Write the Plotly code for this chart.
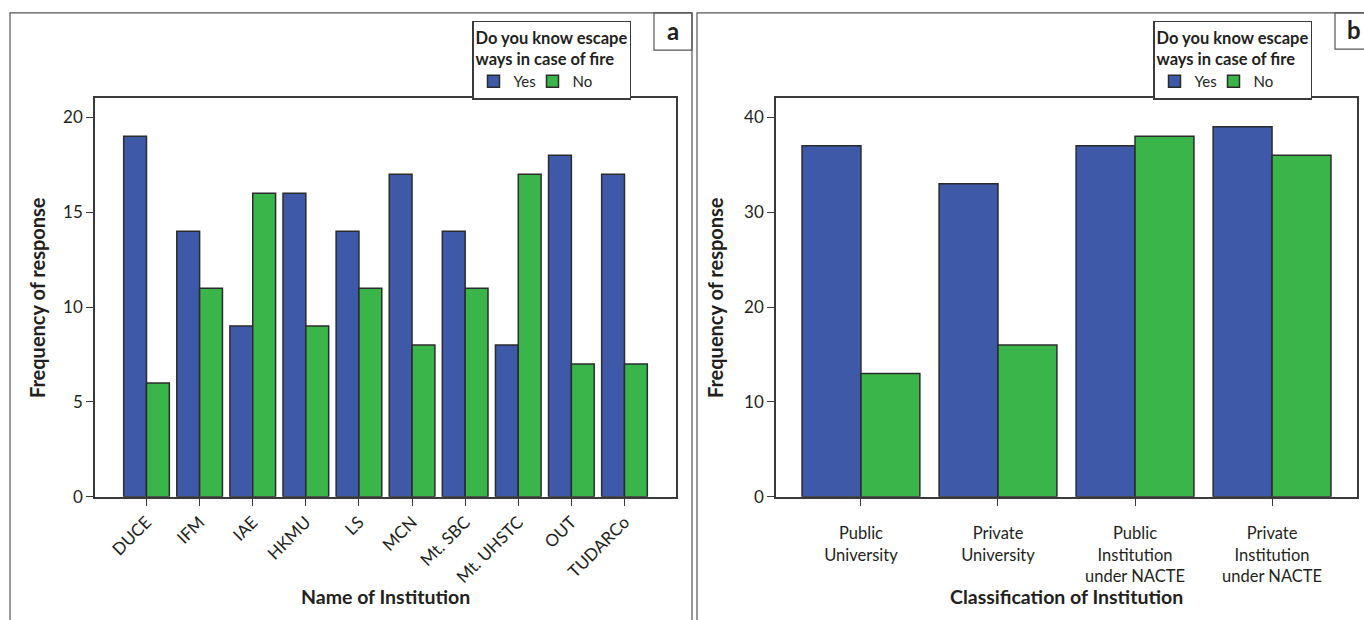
import plotly.graph_objects as go

W, H = 1364, 620

# Data panel a
institutions = ["DUCE", "IFM", "IAE", "HKMU", "LS", "MCN", "Mt. SBC", "Mt. UHSTC", "OUT", "TUDARCo"]
yes_a = [19, 14, 9, 16, 14, 17, 14, 8, 18, 17]
no_a = [6, 11, 16, 9, 11, 8, 11, 17, 7, 7]

# Data panel b
classes = ["Public<br>University", "Private<br>University",
           "Public<br>Institution<br>under NACTE", "Private<br>Institution<br>under NACTE"]
yes_b = [37, 33, 37, 39]
no_b = [13, 16, 38, 36]

BLUE = "#3D59A8"
GREEN = "#3AB54A"
EDGE = "#2b2b2b"
FONT = "Lato"
TXT = "#231f20"

def px_x(v):
    return v / W

def px_y(v):
    return 1 - v / H

fig = go.Figure()
fig.add_trace(go.Bar(x=institutions, y=yes_a, name="Yes", marker=dict(color=BLUE, line=dict(color=EDGE, width=1.5)),
                     xaxis="x", yaxis="y", legend="legend"))
fig.add_trace(go.Bar(x=institutions, y=no_a, name="No", marker=dict(color=GREEN, line=dict(color=EDGE, width=1.5)),
                     xaxis="x", yaxis="y", legend="legend"))
fig.add_trace(go.Bar(x=classes, y=yes_b, name="Yes", marker=dict(color=BLUE, line=dict(color=EDGE, width=1.5)),
                     xaxis="x2", yaxis="y2", legend="legend2"))
fig.add_trace(go.Bar(x=classes, y=no_b, name="No", marker=dict(color=GREEN, line=dict(color=EDGE, width=1.5)),
                     xaxis="x2", yaxis="y2", legend="legend2"))

ydom = [px_y(505), px_y(100)]
common_axis = dict(showline=True, linecolor="#3a3a3a", linewidth=1.5, mirror=True, ticks="outside",
                   ticklen=7, tickcolor="#3a3a3a", showgrid=False, zeroline=False,
                   tickfont=dict(family=FONT, size=17, color=TXT))

legend_common = dict(y=px_y(21), xanchor="left", yanchor="top", orientation="h",
                     bordercolor="#3a3a3a", borderwidth=1.5, bgcolor="white",
                     title=dict(text="<b>Do you know escape<br>ways in case of fire</b>", side="top",
                                font=dict(family=FONT, size=16.5, color=TXT)),
                     font=dict(family=FONT, size=15, color=TXT), itemwidth=30, entrywidth=14,
                     traceorder="normal", tracegroupgap=0)

fig.update_layout(
    width=W, height=H, margin=dict(l=0, r=0, t=0, b=0),
    paper_bgcolor="white", plot_bgcolor="white",
    barmode="group", bargap=0.14,
    font=dict(family=FONT, color=TXT),
    showlegend=True,
    xaxis=dict(domain=[px_x(95), px_x(676)], anchor="y", range=[-0.97, 9.97], tickangle=-45, **common_axis),
    yaxis=dict(domain=ydom, anchor="x", range=[0, 21], tickvals=[0, 5, 10, 15, 20], **common_axis),
    xaxis2=dict(domain=[px_x(776), px_x(1357)], anchor="y2", range=[-0.62, 3.62], ticklabelstandoff=14,
                **{**common_axis, "tickfont": dict(family=FONT, size=16.5, color=TXT)}),
    yaxis2=dict(domain=ydom, anchor="x2", range=[0, 42], tickvals=[0, 10, 20, 30, 40], **common_axis),
    legend=dict(x=px_x(472), **legend_common),
    legend2=dict(x=px_x(1153), **legend_common),
)

# Panel frames and label boxes
shapes = [
    dict(type="rect", xref="paper", yref="paper", x0=px_x(10), x1=px_x(692), y0=px_y(640), y1=px_y(13),
         line=dict(color="#555", width=1.2)),
    dict(type="rect", xref="paper", yref="paper", x0=px_x(697), x1=px_x(1380), y0=px_y(640), y1=px_y(13),
         line=dict(color="#555", width=1.2)),
    dict(type="rect", xref="paper", yref="paper", x0=px_x(654), x1=px_x(692), y0=px_y(51), y1=px_y(13),
         line=dict(color="#555", width=1.2)),
    dict(type="rect", xref="paper", yref="paper", x0=px_x(1335), x1=px_x(1380), y0=px_y(50), y1=px_y(13),
         line=dict(color="#555", width=1.2)),
]
fig.update_layout(shapes=shapes)

def note(text, x, y, size, angle=0):
    return dict(text=text, x=px_x(x), y=px_y(y), xref="paper", yref="paper", showarrow=False,
                xanchor="center", yanchor="middle", textangle=angle,
                font=dict(family=FONT, size=size, color=TXT))

ann = [
    note("<b>a</b>", 673, 31, 24),
    note("<b>b</b>", 1354, 30, 24),
    note("<b>Frequency of response</b>", 37, 303, 20, -90),
    note("<b>Frequency of response</b>", 715, 303, 20, -90),
    note("<b>Name of Institution</b>", 385, 606, 19.5),
    note("<b>Classification of Institution</b>", 1066, 606, 19.5),
]
fig.update_layout(annotations=ann)

js = (
    "var d=document.documentElement,b=document.body;"
    "[d,b].forEach(function(e){e.style.margin='0';e.style.padding='0';e.style.overflow='hidden';});"
)
fig.write_html("out.html", config={"displayModeBar": False}, post_script=js)
